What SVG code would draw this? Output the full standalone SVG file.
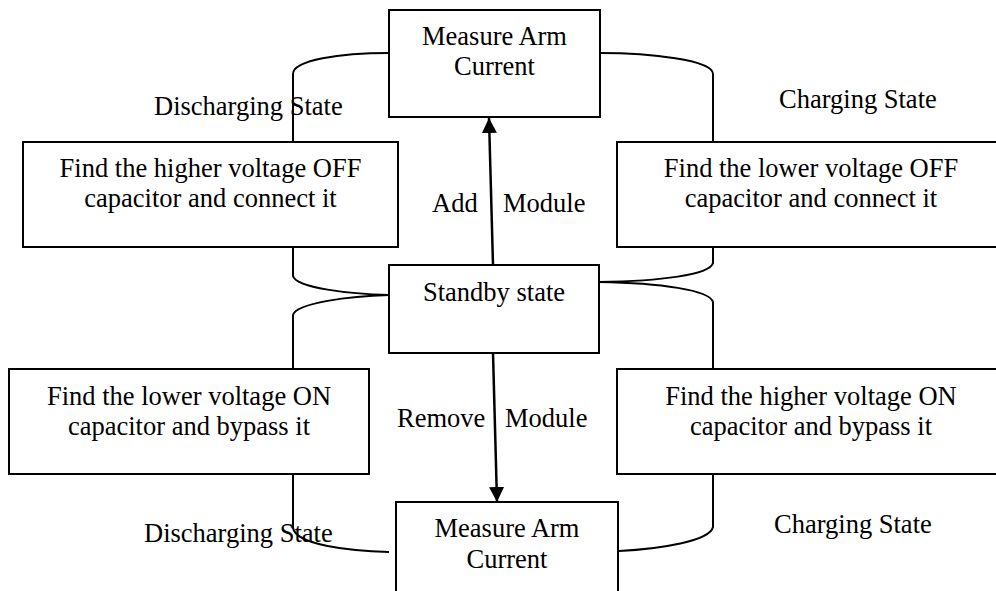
<svg xmlns="http://www.w3.org/2000/svg" width="996" height="591" viewBox="0 0 996 591">
<defs>
<style>
.box{fill:#fff;stroke:#000;stroke-width:2}
.t{font-family:"Liberation Serif","Times New Roman",serif;font-size:26.5px;fill:#000}
.c{text-anchor:middle}
.conn{fill:none;stroke:#000;stroke-width:2}
.arr{fill:none;stroke:#000;stroke-width:2.5}
</style>
<marker id="ah" markerUnits="userSpaceOnUse" markerWidth="16" markerHeight="16" viewBox="0 0 16 16" refX="15" refY="8" orient="auto">
<path d="M0,0.5 L15,8 L0,15.5 Z" fill="#000"/>
</marker>
</defs>
<rect width="996" height="591" fill="#fff"/>

<g id="connectors">
<path class="conn" d="M389,53 C340,53 293,60 293,74 V142"/>
<path class="conn" d="M600,53 C650,53 713,60 713,74 V142"/>
<path class="conn" d="M293,247 V276 C296,288 350,294 389,295"/>
<path class="conn" d="M389,295 C350,296 296,303 293,315 V369"/>
<path class="conn" d="M713,247 V263 C710,275 660,281 599,282"/>
<path class="conn" d="M599,282 C660,283 710,290 713,302 V369"/>
<path class="conn" d="M293,474 V528 C296,545 350,551 389,552"/>
<path class="conn" d="M713,474 V527 C710,541 660,549 619,551"/>
<path class="arr" d="M493,265 L489,118" marker-end="url(#ah)"/>
<path class="arr" d="M493,353 L497,502" marker-end="url(#ah)"/>
</g>

<g id="measure-top">
<rect class="box" x="389" y="10" width="211" height="107"/>
<text class="t c" x="494.5" y="45">Measure Arm</text>
<text class="t c" x="494.5" y="75">Current</text>
</g>

<g id="find-higher-off">
<rect class="box" x="23" y="142" width="375" height="105"/>
<text class="t c" x="210.5" y="177">Find the higher voltage OFF</text>
<text class="t c" x="210.5" y="207">capacitor and connect it</text>
</g>

<g id="find-lower-off">
<rect class="box" x="617" y="142" width="390" height="105"/>
<text class="t c" x="811" y="177">Find the lower voltage OFF</text>
<text class="t c" x="811" y="207">capacitor and connect it</text>
</g>

<g id="standby">
<rect class="box" x="389" y="265" width="210" height="88"/>
<text class="t c" x="494" y="301">Standby state</text>
</g>

<g id="find-lower-on">
<rect class="box" x="9" y="369" width="360" height="105"/>
<text class="t c" x="189" y="405">Find the lower voltage ON</text>
<text class="t c" x="189" y="435">capacitor and bypass it</text>
</g>

<g id="find-higher-on">
<rect class="box" x="617" y="369" width="390" height="105"/>
<text class="t c" x="811" y="405">Find the higher voltage ON</text>
<text class="t c" x="811" y="435">capacitor and bypass it</text>
</g>

<g id="measure-bottom">
<rect class="box" x="396" y="502" width="222" height="95"/>
<text class="t c" x="507" y="537">Measure Arm</text>
<text class="t c" x="507" y="568">Current</text>
</g>

<g id="labels">
<text class="t" x="154" y="115">Discharging State</text>
<text class="t" x="779" y="108">Charging State</text>
<text class="t" x="432" y="212">Add</text>
<text class="t" x="503" y="212">Module</text>
<text class="t" x="397" y="427">Remove</text>
<text class="t" x="505" y="427">Module</text>
<text class="t" x="144" y="542">Discharging State</text>
<text class="t" x="774" y="533">Charging State</text>
</g>
</svg>
